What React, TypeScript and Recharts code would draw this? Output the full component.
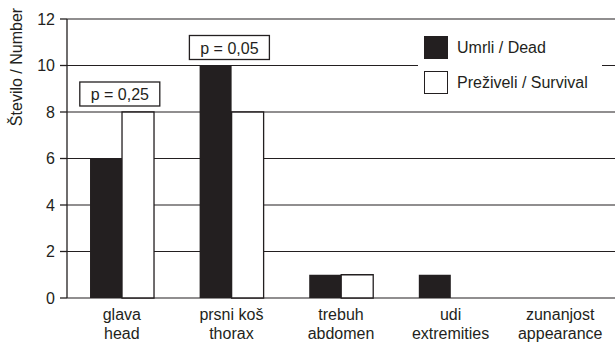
import React from "react";
import {
  BarChart,
  Bar,
  XAxis,
  YAxis,
  CartesianGrid,
  Legend,
  ReferenceDot,
} from "recharts";

const categories = ["glava", "prsni koš", "trebuh", "udi", "zunanjost"];
const categoriesEn = ["head", "thorax", "abdomen", "extremities", "appearance"];
const dead = [6, 10, 1, 1, 0];
const survival = [8, 8, 1, 0, 0];
const pValues = ["0,25", "0,05", null, null, null];
const yTicks = [0, 2, 4, 6, 8, 10, 12];
const edgeTicks = [0, 1, 2, 3, 4, 5];

const INK = "#231f20";
const FONT = '"Liberation Sans", Arial, Helvetica, sans-serif';

const rows = categories.map((name, i) => ({
  name,
  en: categoriesEn[i],
  dead: dead[i],
  survival: survival[i],
}));

// two-line label: Slovenian on top, English below
const CategoryTick = ({ x, y, payload, index }: any) => (
  <text x={x} y={y} textAnchor="middle" fill={INK} fontSize={16}>
    <tspan x={x} dy={22}>
      {payload.value}
    </tspan>
    <tspan x={x} dy={19}>
      {categoriesEn[index ?? payload.index]}
    </tspan>
  </text>
);

const PBox = ({ viewBox, value }: any) => {
  const cx = viewBox.x + viewBox.width / 2;
  const top = viewBox.y + viewBox.height / 2;
  return (
    <g>
      <rect
        x={cx - 42}
        y={top - 30}
        width={80}
        height={24}
        fill="#fff"
        stroke={INK}
        strokeWidth={1.3}
      />
      <text x={cx - 2} y={top - 12} textAnchor="middle" fill={INK} fontSize={16}>
        {`p = ${value}`}
      </text>
    </g>
  );
};

const LegendBox = () => {
  const items = [
    { label: "Umrli / Dead", fill: INK },
    { label: "Preživeli / Survival", fill: "#fff" },
  ];
  return (
    <div style={{ paddingLeft: 6 }}>
      {items.map((it) => (
        <div
          key={it.label}
          style={{ display: "flex", alignItems: "center", height: 35 }}
        >
          <div
            style={{
              width: 22,
              height: 21,
              background: it.fill,
              border: `1.3px solid ${INK}`,
            }}
          />
          <span style={{ marginLeft: 9, fontSize: 16, color: INK }}>
            {it.label}
          </span>
        </div>
      ))}
    </div>
  );
};

const YLabel = () => (
  <text
    x={16}
    y={67}
    transform="rotate(-90, 16, 67)"
    textAnchor="middle"
    dominantBaseline="central"
    fill={INK}
    fontSize={16}
  >
    Število / Number
  </text>
);

export default function App() {
  return (
    <div
      style={{
        position: "absolute",
        left: 0,
        top: 0,
        width: 615,
        height: 343,
        background: "#fff",
        fontFamily: FONT,
      }}
    >
      <BarChart
        width={615}
        height={343}
        data={rows}
        margin={{ top: 19, right: 0, bottom: 0, left: 0 }}
        barCategoryGap="21%"
        barGap={0}
      >
        <CartesianGrid
          vertical={false}
          stroke={INK}
          strokeWidth={1.2}
        />
        <XAxis
          xAxisId="edges"
          type="number"
          domain={[0, 5]}
          ticks={edgeTicks}
          allowDataOverflow
          height={0}
          tick={false}
          tickSize={5}
          stroke={INK}
          strokeWidth={1.3}
        />
        <XAxis
          dataKey="name"
          height={45}
          axisLine={false}
          tickLine={false}
          tickSize={0}
          tickMargin={0}
          interval={0}
          tick={<CategoryTick />}
        />
        <YAxis
          domain={[0, 12]}
          ticks={yTicks}
          width={67}
          tickSize={7}
          tickMargin={5}
          stroke={INK}
          strokeWidth={1.3}
          tick={{ fill: INK, fontSize: 16 }}
          label={<YLabel />}
        />
        <Legend
          verticalAlign="middle"
          align="center"
          layout="horizontal"
          content={<LegendBox />}
          wrapperStyle={{
            top: 30,
            left: 418,
            width: 184,
            height: 70,
            background: "#fff",
          }}
        />
        <Bar dataKey="dead" fill={INK} isAnimationActive={false} />
        <Bar
          dataKey="survival"
          fill="#fff"
          stroke={INK}
          strokeWidth={1.3}
          isAnimationActive={false}
        />
        {rows.map((r, i) =>
          pValues[i] ? (
            <ReferenceDot
              key={r.name}
              x={r.name}
              y={Math.max(r.dead, r.survival)}
              r={0}
              fill="none"
              stroke="none"
              label={<PBox value={pValues[i]} />}
            />
          ) : null
        )}
      </BarChart>
    </div>
  );
}
